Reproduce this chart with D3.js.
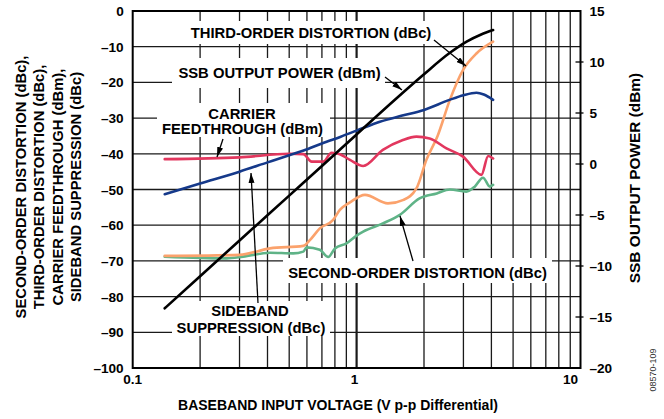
<!DOCTYPE html>
<html>
<head>
  <meta charset="utf-8">
  <title>Distortion vs Baseband Input Voltage</title>
  <script src="https://d3js.org/d3.v7.min.js"></script>
  <style>
    body { margin: 0; background: #fff; }
    svg text { font-family: "Liberation Sans", Arial, sans-serif; font-weight: bold; fill: #000; }
    .grid line { stroke: #1a1a1a; stroke-width: 1.3; }
    .curve { fill: none; stroke-width: 2.6; stroke-linejoin: round; stroke-linecap: round; }
    .tick-label { font-size: 13.6px; }
    .label { font-size: 14.8px; }
    .arrow { stroke: #000; stroke-width: 1.3; }
  </style>
</head>
<body>
  <svg width="664" height="419"></svg>
  <script>
    // axis ticks
    var xLabels = [0.1, 1, 10];
    var xGrid = [0.2, 0.3, 0.4, 0.5, 0.6, 0.7, 0.8, 0.9, 1, 2, 3, 4, 5, 6, 7, 8, 9];
    var leftTicks = [0, -10, -20, -30, -40, -50, -60, -70, -80, -90, -100];
    var rightTicks = [15, 10, 5, 0, -5, -10, -15, -20];

    // series, [V p-p, value]
    var ssbPower = [[0.139, -14.15], [0.2, -11.0], [0.3, -7.5], [0.5, -3.1], [0.7, -0.2], [1.0, 2.9],
      [1.5, 6.4], [2.0, 8.8], [2.61, 10.9], [3.1, 12.0], [3.6, 12.7], [4.07, 13.14]];   // dBm, right axis
    var sidebandSupp = [[0.139, -51.3], [0.2, -48.3], [0.3, -45.0], [0.4, -42.4], [0.5, -40.4], [0.58, -39.1],
      [0.7, -37.1], [0.85, -35.2], [1.0, -33.5], [1.27, -31.0], [1.6, -29.3], [2.0, -27.7], [2.6, -24.9],
      [3.0, -23.6], [3.43, -22.9], [3.7, -23.4], [4.07, -24.9]];
    var carrierFeed = [[0.139, -41.5], [0.3, -41.0], [0.5, -40.0], [0.578, -40.1], [0.63, -42.2], [0.71, -42.2],
      [0.773, -39.7], [0.842, -40.1], [0.934, -41.7], [1.07, -43.4], [1.31, -38.9], [1.6, -36.2], [1.85, -35.2],
      [2.12, -35.7], [2.52, -38.5], [2.99, -40.8], [3.61, -45.9], [3.87, -40.6], [4.07, -41.3]];
    var thirdOrder = [[0.139, -68.6], [0.3, -68.3], [0.41, -66.5], [0.578, -65.8], [0.62, -64.1], [0.685, -60.9],
      [0.786, -58.5], [0.842, -55.7], [0.934, -53.6], [1.09, -51.5], [1.38, -53.9], [1.62, -52.9], [1.85, -49.7],
      [2.05, -41.7], [2.3, -35.0], [2.61, -24.9], [2.99, -16.5], [3.43, -11.9], [4.07, -8.6]];
    var secondOrder = [[0.139, -68.8], [0.263, -69.3], [0.311, -68.8], [0.41, -67.7], [0.521, -67.9], [0.578, -67.4],
      [0.598, -66.2], [0.685, -66.9], [0.747, -68.9], [0.801, -66.5], [0.901, -65.1], [1.0, -62.9], [1.07, -61.8],
      [1.31, -59.5], [1.56, -57.1], [1.91, -52.5], [2.28, -51.1], [2.61, -50.0], [3.09, -50.6], [3.37, -49.2],
      [3.67, -46.7], [3.94, -49.2], [4.07, -48.7]];

    var plotL = 132.7, plotR = 580.5, plotT = 11, plotB = 368;

    var svg = d3.select("svg");

    var x = d3.scaleLog().domain([0.1, 10]).range([plotL, plotR]);
    var yL = d3.scaleLinear().domain([-100, 0]).range([plotB, plotT]);
    var yR = d3.scaleLinear().domain([-20, 15]).range([plotB, plotT]);

    // grid
    var grid = svg.append("g").attr("class", "grid");
    grid.selectAll(".v").data(xGrid).enter().append("line")
        .attr("x1", function(d) { return x(d); }).attr("x2", function(d) { return x(d); })
        .attr("y1", plotT).attr("y2", plotB)
        .style("stroke-width", function(d) { return d === 1 ? 2.2 : 1.3; });
    grid.selectAll(".h").data(leftTicks.slice(1, -1)).enter().append("line")
        .attr("x1", plotL).attr("x2", plotR)
        .attr("y1", function(d) { return yL(d); }).attr("y2", function(d) { return yL(d); });

    // white boxes behind the callouts
    var boxes = [[185, 21, 252, 23], [172, 58, 213, 30], [157, 103, 173, 34], [172, 301, 158, 35], [283, 258, 269, 25]];
    svg.selectAll(".box").data(boxes).enter().append("rect")
        .attr("x", function(d) { return d[0]; }).attr("y", function(d) { return d[1]; })
        .attr("width", function(d) { return d[2]; }).attr("height", function(d) { return d[3]; })
        .attr("fill", "#fff");

    // right axis ticks
    svg.selectAll(".rt").data(rightTicks.slice(1, -1)).enter().append("line")
        .attr("x1", plotR - 5).attr("x2", plotR + 3)
        .attr("y1", function(d) { return yR(d); }).attr("y2", function(d) { return yR(d); })
        .attr("stroke", "#000").attr("stroke-width", 1.3);

    // border
    svg.append("rect")
        .attr("x", plotL).attr("y", plotT).attr("width", plotR - plotL).attr("height", plotB - plotT)
        .attr("fill", "none").attr("stroke", "#000").attr("stroke-width", 2);

    // curves
    function line(y) {
      return d3.line()
          .x(function(d) { return x(d[0]); })
          .y(function(d) { return y(d[1]); })
          .curve(d3.curveMonotoneX);
    }
    var series = [
      {data: secondOrder, color: "#5fb387", y: yL},
      {data: thirdOrder, color: "#fba26c", y: yL},
      {data: carrierFeed, color: "#e2375e", y: yL},
      {data: sidebandSupp, color: "#15398a", y: yL},
      {data: ssbPower, color: "#000000", y: yR}
    ];
    svg.selectAll(".curve").data(series).enter().append("path")
        .attr("class", "curve")
        .attr("stroke", function(d) { return d.color; })
        .attr("d", function(d) { return line(d.y)(d.data); });

    // tick labels
    svg.selectAll(".lt").data(leftTicks).enter().append("text")
        .attr("class", "tick-label")
        .attr("x", plotL - 9).attr("y", function(d) { return yL(d) + 5; })
        .attr("text-anchor", "end")
        .text(function(d) { return d < 0 ? "\u2013" + (-d) : d; });
    svg.selectAll(".rtl").data(rightTicks).enter().append("text")
        .attr("class", "tick-label")
        .attr("x", plotR + 9).attr("y", function(d) { return yR(d) + 5; })
        .text(function(d) { return d < 0 ? "\u2013" + (-d) : d; });
    svg.selectAll(".xt").data(xLabels).enter().append("text")
        .attr("class", "tick-label")
        .attr("x", function(d) { return x(d) + (d === 10 ? -10 : (d === 1 ? -2 : 0)); })
        .attr("y", 384)
        .attr("text-anchor", "middle")
        .text(function(d) { return d; });

    // axis titles
    svg.append("text").attr("class", "label")
        .attr("x", 338).attr("y", 410).attr("text-anchor", "middle").style("font-size", "14px")
        .text("BASEBAND INPUT VOLTAGE (V p-p Differential)");
    var leftTitle = ["SECOND-ORDER DISTORTION (dBc),", "THIRD-ORDER DISTORTION (dBc),",
                     "CARRIER FEEDTHROUGH (dBm),", "SIDEBAND SUPPRESSION (dBc)"];
    svg.selectAll(".lt2").data(leftTitle).enter().append("text")
        .attr("class", "label")
        .attr("transform", function(d, i) { return "translate(" + (26 + i * 18.3) + ",187) rotate(-90)"; })
        .attr("text-anchor", "middle")
        .text(function(d) { return d; });
    svg.append("text").attr("class", "label")
        .attr("transform", "translate(640,178) rotate(-90)")
        .attr("text-anchor", "middle").style("font-size", "15.4px")
        .text("SSB OUTPUT POWER (dBm)");
    svg.append("text")
        .attr("transform", "translate(656,370) rotate(-90)")
        .attr("text-anchor", "middle")
        .style("font-size", "9px").style("font-weight", "normal").style("fill", "#333")
        .text("08570-109");

    // callouts
    var labels = [
      ["THIRD-ORDER DISTORTION (dBc)", 311, 38],
      ["SSB OUTPUT POWER (dBm)", 279.5, 78],
      ["CARRIER", 242, 118.5],
      ["FEEDTHROUGH (dBm)", 242.5, 133.5],
      ["SIDEBAND", 250, 315.5],
      ["SUPPRESSION (dBc)", 251, 333],
      ["SECOND-ORDER DISTORTION (dBc)", 417.5, 277.5]
    ];
    svg.selectAll(".lab").data(labels).enter().append("text")
        .attr("class", "label")
        .attr("x", function(d) { return d[1]; }).attr("y", function(d) { return d[2]; })
        .attr("text-anchor", "middle")
        .text(function(d) { return d[0]; });

    svg.append("defs").append("marker")
        .attr("id", "head").attr("viewBox", "0 0 10 6")
        .attr("refX", 10).attr("refY", 3)
        .attr("markerWidth", 10).attr("markerHeight", 6)
        .attr("markerUnits", "userSpaceOnUse")
        .attr("orient", "auto")
      .append("path").attr("d", "M0,0L10,3L0,6Z").attr("fill", "#000");

    var arrows = [[434, 40, 466, 66], [385, 77, 402, 90], [223, 139, 217, 157], [258, 303, 251, 173], [413, 261, 400, 216]];
    svg.selectAll(".arrow").data(arrows).enter().append("line")
        .attr("class", "arrow")
        .attr("x1", function(d) { return d[0]; }).attr("y1", function(d) { return d[1]; })
        .attr("x2", function(d) { return d[2]; }).attr("y2", function(d) { return d[3]; })
        .attr("marker-end", "url(#head)");
  </script>
</body>
</html>
